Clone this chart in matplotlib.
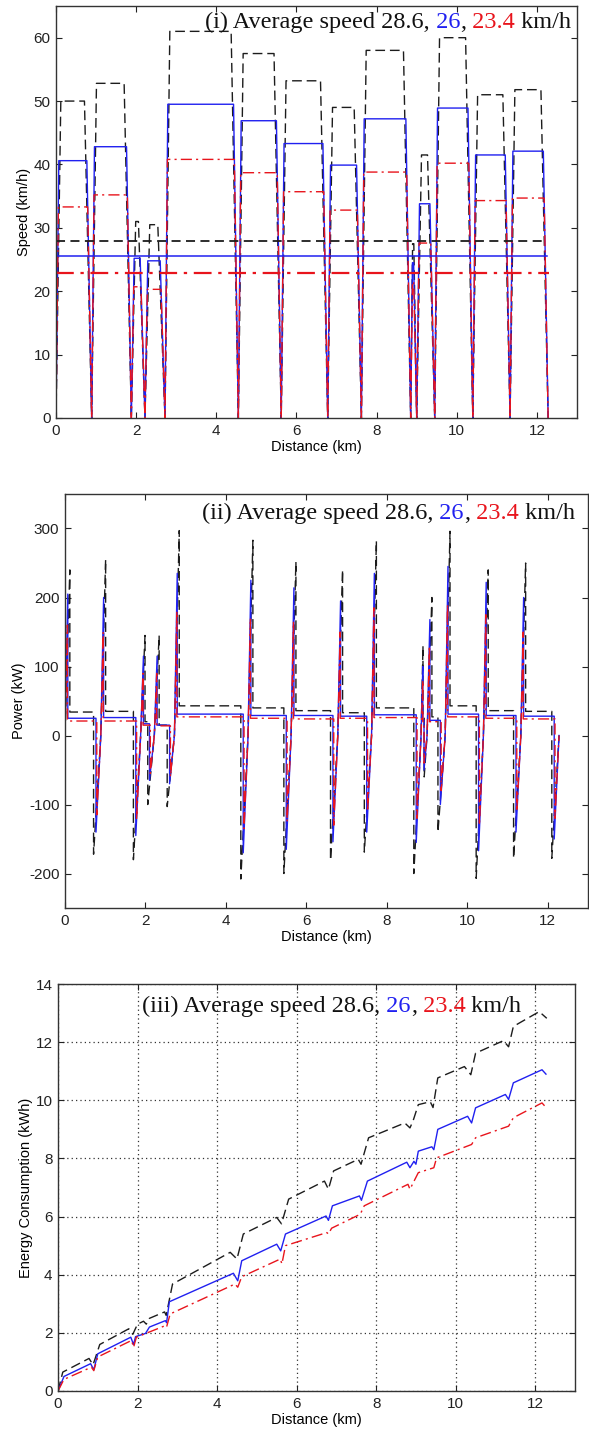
import numpy as np
import matplotlib
matplotlib.use("Agg")
import matplotlib.pyplot as plt
from matplotlib import transforms

# ---------------- data ----------------
stops = [0.0, 0.89, 1.88, 2.22, 2.72, 4.55, 5.62, 6.78, 7.62, 8.85, 9.0, 9.45, 10.4, 11.33, 12.28]

speed_black = [50, 52.8, 31, 30.5, 61, 57.5, 53.2, 49, 58, 27.5, 41.5, 60, 51, 51.8]
speed_blue = [40.6, 42.8, 25.2, 24.8, 49.5, 46.9, 43.3, 39.9, 47.2, 24.5, 33.8, 48.9, 41.5, 42.1]
speed_red = [33.3, 35.2, 20.7, 20.3, 40.8, 38.7, 35.7, 32.8, 38.8, 21.5, 27.6, 40.2, 34.3, 34.7]
avg_lines = [28.0, 25.6, 22.9]
avg_end = [12.24, 12.24, 12.3]

peak_black = [240, 255, 145, 145, 297, 283, 252, 240, 282, 130, 200, 296, 240, 250]
peak_blue = [205, 200, 115, 115, 235, 225, 214, 195, 235, 100, 168, 245, 222, 200]
peak_red = [160, 150, 90, 90, 180, 170, 165, 150, 185, 80, 130, 190, 175, 150]
cruise_black = [34, 35, 20, 15, 43, 40, 36, 33, 40, 25, 27, 43, 36, 35]
cruise_blue = [25, 26, 17, 15, 31, 29, 29, 28, 30, 22, 22, 31, 29, 28]
cruise_red = [21, 21, 15, 14, 27, 25, 24, 25, 26, 20, 20, 27, 25, 24]
brake_black = [-172, -180, -100, -103, -208, -200, -181, -169, -200, -60, -140, -207, -178, -178]
brake_blue = [-140, -145, -65, -70, -170, -165, -154, -140, -155, -50, -100, -167, -140, -150]
brake_red = [-115, -120, -55, -60, -135, -125, -130, -110, -120, -40, -80, -130, -110, -120]

energy_black_x = [0, 0.12, 0.78, 0.88, 0.93, 1.05, 1.78, 1.88, 2.0, 2.15, 2.22, 2.3, 2.68, 2.72, 2.88,
                  4.33, 4.5, 4.66, 5.5, 5.62, 5.8, 6.7, 6.8, 6.93, 7.55, 7.62, 7.81, 8.72, 8.85, 8.93,
                  9.06, 9.36, 9.43, 9.55, 10.22, 10.38, 10.5, 11.2, 11.33, 11.45, 12.1, 12.29]
energy_black_y = [0, 0.65, 1.12, 0.9, 1.1, 1.6, 2.14, 1.95, 2.3, 2.4, 2.3, 2.5, 2.72, 2.6, 3.68,
                  4.77, 4.54, 5.4, 5.97, 5.75, 6.6, 7.22, 6.94, 7.57, 7.97, 7.8, 8.71, 9.22, 9.05, 9.3,
                  9.85, 9.95, 9.75, 10.77, 11.16, 10.88, 11.62, 12.05, 11.84, 12.54, 13.05, 12.82]
energy_blue_x = [0, 0.15, 0.82, 0.9, 1.0, 1.83, 1.9, 1.95, 2.2, 2.3, 2.7, 2.73, 2.8, 4.41, 4.52, 4.62,
                 5.5, 5.6, 5.72, 6.1, 6.74, 6.8, 6.9, 7.58, 7.63, 7.78, 8.77, 8.85, 8.95, 9.0, 9.06,
                 9.4, 9.45, 9.55, 10.3, 10.4, 10.5, 11.25, 11.33, 11.45, 12.17, 12.27]
energy_blue_y = [0, 0.5, 0.94, 0.73, 1.28, 1.85, 1.6, 1.87, 1.98, 2.2, 2.42, 2.35, 3.07, 4.05, 3.79, 4.48,
                 5.05, 4.82, 5.4, 5.63, 6.02, 5.87, 6.37, 6.71, 6.56, 7.22, 7.87, 7.68, 7.9, 7.8, 8.25,
                 8.4, 8.3, 9.0, 9.45, 9.22, 9.74, 10.2, 10.03, 10.6, 11.05, 10.9]
energy_red_x = [0, 0.15, 0.84, 0.9, 1.0, 1.85, 1.9, 1.97, 2.7, 2.73, 2.82, 4.45, 4.52, 4.62, 5.59, 5.63,
                5.72, 6.76, 6.8, 6.88, 7.6, 7.7, 8.8, 8.85, 9.06, 9.45, 9.52, 10.4, 10.5, 11.33, 11.45,
                12.17, 12.28]
energy_red_y = [0, 0.4, 0.82, 0.7, 1.17, 1.74, 1.5, 1.85, 2.25, 2.2, 2.65, 3.68, 3.57, 3.93, 4.54, 4.37,
                5.0, 5.45, 5.4, 5.6, 6.08, 6.37, 7.11, 6.94, 7.51, 7.68, 8.02, 8.48, 8.71, 9.11, 9.4,
                9.91, 9.74]

# ramp lengths (km) used for acceleration / braking phases of each series
ramp_acc = {"black": 0.12, "blue": 0.07, "red": 0.06}
ramp_dec = {"black": 0.18, "blue": 0.12, "red": 0.10}

xticks = [0, 2, 4, 6, 8, 10, 12]

# ---------------- style ----------------
C_BLACK = "#1c1c1c"
C_BLUE = "#2020f0"
C_RED = "#e8141c"
SANS = "Liberation Sans"
SERIF = "Liberation Serif"
plt.rcParams["font.family"] = SANS
plt.rcParams["font.size"] = 10
plt.rcParams["axes.unicode_minus"] = False

STY = {
    "black": dict(color=C_BLACK, lw=1.0, dashes=(7, 3.5)),
    "blue": dict(color=C_BLUE, lw=1.0, ls="-"),
    "red": dict(color=C_RED, lw=1.0, dashes=(8, 3, 1.5, 3)),
}


def seg_ramps(name, L):
    a, d = ramp_acc[name], ramp_dec[name]
    if a + d > 0.8 * L:
        f = 0.8 * L / (a + d)
        a, d = a * f, d * f
    return a, d


def speed_path(name, vals):
    xs, ys = [], []
    for i, v in enumerate(vals):
        s, e = stops[i], stops[i + 1]
        a, d = seg_ramps(name, e - s)
        xs += [s, s + a, e - d, e]
        ys += [0, v, v, 0]
    return xs, ys


def power_path(name, peaks, cruise, brake):
    xs, ys = [], []
    for i in range(len(peaks)):
        s, e = stops[i], stops[i + 1]
        a, d = seg_ramps(name, e - s)
        xs += [s, s + a, s + a, e - d, e - d, e]
        ys += [0, peaks[i], cruise[i], cruise[i], brake[i], 0]
    return xs, ys


def style_axes(ax, ylim, yticks, ylabel):
    ax.set_xlim(0, 13)
    ax.set_ylim(*ylim)
    ax.set_xticks(xticks)
    ax.set_yticks(yticks)
    ax.tick_params(direction="in", top=True, right=True, length=4, width=0.8,
                   labelsize=11, colors="#222222", pad=4)
    for sp in ax.spines.values():
        sp.set_linewidth(1.0)
        sp.set_color("#333333")
    ax.set_xlabel("Distance (km)", fontsize=10.5, labelpad=2)
    ax.set_ylabel(ylabel, fontsize=10.5, labelpad=2)


def rainbow_title(ax, x, y, parts, size):
    fig = ax.figure
    fig.canvas.draw()
    r = fig.canvas.get_renderer()
    t = ax.transAxes
    for s, c in parts:
        txt = ax.text(x, y, s, color=c, transform=t, fontsize=size,
                      family=SERIF, va="baseline", ha="left")
        ex = txt.get_window_extent(renderer=r)
        t = transforms.offset_copy(txt.get_transform(), x=ex.width, units="dots")


def title_parts(prefix):
    return [(prefix + " Average speed 28.6,", "#111111"), (" 26", C_BLUE), (",", "#111111"),
            (" 23.4", C_RED), (" km/h", "#111111")]


fig = plt.figure(figsize=(5.89, 14.34), dpi=100)
ax1 = fig.add_axes([56 / 589, 1 - 418 / 1434, 521 / 589, 412 / 1434])
ax2 = fig.add_axes([65 / 589, 1 - 908 / 1434, 523 / 589, 414 / 1434])
ax3 = fig.add_axes([58 / 589, 1 - 1391 / 1434, 517 / 589, 407 / 1434])

# ---- panel (i) speed ----
for name, vals in (("black", speed_black), ("blue", speed_blue), ("red", speed_red)):
    xs, ys = speed_path(name, vals)
    ax1.plot(xs, ys, **STY[name])
ax1.plot([0, avg_end[0]], [avg_lines[0]] * 2, color=C_BLACK, lw=1.3, dashes=(5, 3))
ax1.plot([0, avg_end[1]], [avg_lines[1]] * 2, color=C_BLUE, lw=1.1, ls="-")
ax1.plot([0, avg_end[2]], [avg_lines[2]] * 2, color=C_RED, lw=1.6, dashes=(8, 3, 1.5, 3))
style_axes(ax1, (0, 65), [0, 10, 20, 30, 40, 50, 60], "Speed (km/h)")

# ---- panel (ii) power ----
for name, pk, cr, br in (("black", peak_black, cruise_black, brake_black),
                         ("blue", peak_blue, cruise_blue, brake_blue),
                         ("red", peak_red, cruise_red, brake_red)):
    xs, ys = power_path(name, pk, cr, br)
    ax2.plot(xs, ys, **STY[name])
style_axes(ax2, (-250, 350), [-200, -100, 0, 100, 200, 300], "Power (kW)")

# ---- panel (iii) energy ----
ax3.plot(energy_black_x, energy_black_y, **STY["black"])
ax3.plot(energy_blue_x, energy_blue_y, **STY["blue"])
ax3.plot(energy_red_x, energy_red_y, **STY["red"])
style_axes(ax3, (0, 14), [0, 2, 4, 6, 8, 10, 12, 14], "Energy Consumption (kWh)")
ax3.grid(True, color="#333333", linestyle=(0, (1, 2.5)), linewidth=0.9)

rainbow_title(ax1, 0.286, 0.947, title_parts("(i)"), 17.5)
rainbow_title(ax2, 0.262, 0.940, title_parts("(ii)"), 17.5)
rainbow_title(ax3, 0.1625, 0.932, title_parts("(iii)"), 17.5)

fig.savefig("out.png", dpi=100)
